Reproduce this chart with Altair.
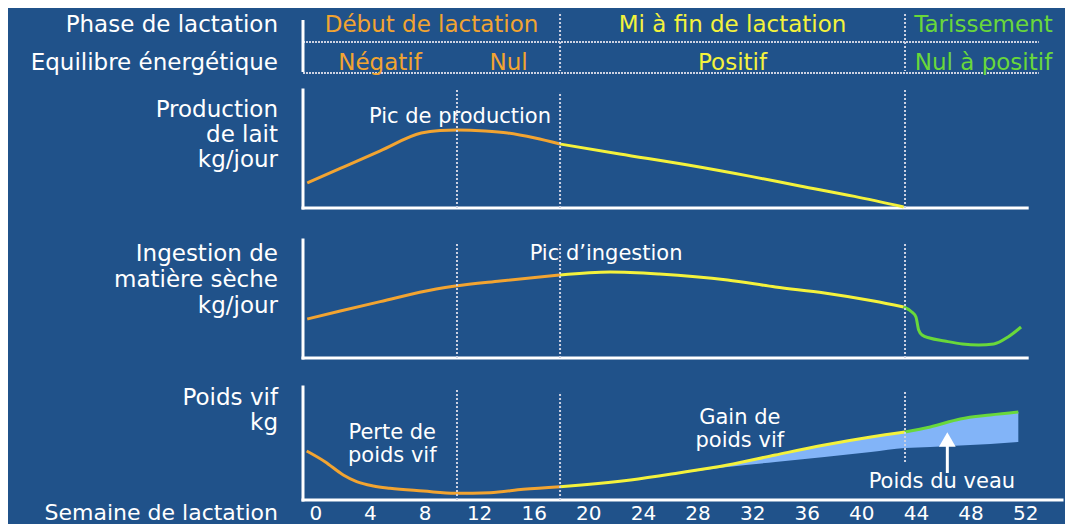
import altair as alt
import pandas as pd

# ---------------- data ----------------
WEEK_TICKS = [0, 4, 8, 12, 16, 20, 24, 28, 32, 36, 40, 44, 48, 52]
X_MIN, X_MAX = -0.9, 54.7
B_NUL, B_MID, B_DRY = 10.38, 17.93, 43.2

PHASE_LABELS = ["Début de lactation", "Mi à fin de lactation", "Tarissement"]
PHASE_START = [X_MIN, B_MID, B_DRY]
PHASE_END = [B_MID, B_DRY, X_MAX]
PHASE_SEG = ["orange", "yellow", "green"]

ENERGY_LABELS = ["Négatif", "Nul", "Positif", "Nul à positif"]
ENERGY_START = [X_MIN, B_NUL, B_MID, B_DRY]
ENERGY_END = [B_NUL, B_MID, B_DRY, X_MAX]
ENERGY_SEG = ["orange", "orange", "yellow", "green"]

# Production de lait (kg/jour)
MILK_EARLY_W = [-0.59, 1.83, 4.76, 7.76, 9.15, 10.4, 12.45, 14.1, 16.1, 17.93]
MILK_EARLY_V = [12.5, 19.8, 28.6, 37.5, 38.75, 39.0, 38.5, 37.5, 35.0, 32.0]
MILK_MID_W = [17.93, 22.3, 27.3, 31.9, 35.5, 39.5, 43.1]
MILK_MID_V = [32.0, 27.0, 21.5, 15.8, 11.0, 5.8, 0.5]

# Ingestion de matiere seche (kg/jour)
DMI_EARLY_W = [-0.59, 1.83, 4.76, 8.86, 10.26, 13.55, 17.93]
DMI_EARLY_V = [9.75, 11.75, 14.1, 17.25, 18.0, 19.25, 20.75]
DMI_MID_W = [17.93, 21.6, 25.2, 30.2, 33.7, 37.3, 40.9, 43.1]
DMI_MID_V = [20.75, 21.5, 21.0, 19.5, 17.75, 16.25, 14.25, 12.75]
DMI_DRY_W = [43.1, 43.7, 44.0, 44.2, 44.45, 45.0, 46.1, 47.4, 48.6, 49.7, 50.75, 51.7]
DMI_DRY_V = [12.75, 11.5, 10.25, 7.0, 5.75, 5.0, 4.25, 3.5, 3.25, 3.5, 5.25, 7.75]

# Poids vif (kg)
BW_EARLY_W = [-0.63, 0.71, 2.05, 3.03, 4.25, 5.47, 7.91, 10.26, 12.8, 15.24, 17.93]
BW_EARLY_V = [572.5, 545.75, 512.5, 495.75, 485, 479.25, 472.5, 466.75, 468.25, 476.75, 483.25]
BW_MID_W = [17.93, 19.5, 23.1, 26.6, 30.2, 33.7, 37.3, 40.7, 43.2]
BW_MID_V = [483.25, 487.5, 500, 517.5, 537.5, 562.5, 587.5, 607.5, 620]
BW_DRY_W = [43.2, 45.05, 47.25, 49.45, 51.5]
BW_DRY_V = [620, 632.5, 652.5, 662.5, 670]

# Poids du veau (zone bleue)
CALF_W = [25.5, 26.6, 30.2, 33.7, 37.3, 40.7, 43.2, 45.05, 47.25, 49.45, 51.5]
CALF_TOP = [512, 517.5, 537.5, 562.5, 587.5, 607.5, 620, 632.5, 652.5, 662.5, 670]
CALF_LOW = [512, 516, 532.5, 545, 557.5, 570, 580, 582.5, 586, 590, 595]
ARROW_W = 46.3
ARROW_BASE, ARROW_END, ARROW_HEAD = 517.5, 598.0, 601.5

# ---------------- style ----------------
BG = "#20528A"
WHITE = "#FFFFFF"
ORANGE = "#F2A431"
YELLOW = "#F4F23C"
GREEN = "#69D83A"
DOT = "#CDD2E2"
CALF = "#82B4F8"
FONT = "DejaVu Sans"
W = 759

XS = alt.Scale(domain=[X_MIN, X_MAX], nice=False, zero=False)
COLOR = alt.Color("seg:N", scale=alt.Scale(domain=["orange", "yellow", "green"],
                                           range=[ORANGE, YELLOW, GREEN]), legend=None)


def curve_df(parts):
    rows = []
    for seg, ws, vs in parts:
        for w, v in zip(ws, vs):
            rows.append({"seg": seg, "week": w, "v": v})
    return pd.DataFrame(rows)


# ---------------- header ----------------
phase_df = pd.DataFrame({"label": PHASE_LABELS, "start": PHASE_START, "end": PHASE_END, "seg": PHASE_SEG})
energy_df = pd.DataFrame({"label": ENERGY_LABELS, "start": ENERGY_START, "end": ENERGY_END, "seg": ENERGY_SEG})
one = pd.DataFrame({"a": [0]})


def mid_text(df, yv):
    return alt.Chart(df).transform_calculate(mid="(datum.start + datum.end) / 2").mark_text(
        font=FONT, fontSize=23, align="center", baseline="middle").encode(
        x=alt.X("mid:Q", scale=XS, axis=None), y=alt.value(yv), text="label:N", color=COLOR)


def left_label(text, yv, lh=25, size=23):
    return alt.Chart(one).mark_text(font=FONT, fontSize=size, align="right", baseline="middle",
                                    color=WHITE, lineBreak="\n", lineHeight=lh).encode(
        x=alt.value(-25), y=alt.value(yv), text=alt.value(text))


anchor = alt.Chart(one).mark_rule(color=BG, strokeWidth=1).encode(
    x=alt.value(-294.5), y=alt.value(30), y2=alt.value(31))

hline_df = pd.DataFrame({"start": [X_MIN], "end": [53.0]})


def hline(yv):
    return alt.Chart(hline_df).mark_rule(color=DOT, strokeWidth=2, strokeDash=[2, 1]).encode(
        x=alt.X("start:Q", scale=XS, axis=None), x2="end:Q", y=alt.value(yv))


hdash = alt.Chart(pd.DataFrame({"week": [B_MID, B_DRY]})).mark_rule(
    color=DOT, strokeWidth=2, strokeDash=[2, 2]).encode(
    x=alt.X("week:Q", scale=XS, axis=None), y=alt.value(6), y2=alt.value(63))

hsolid = alt.Chart(pd.DataFrame({"week": [X_MIN]})).mark_rule(color=WHITE, strokeWidth=3).encode(
    x=alt.X("week:Q", scale=XS, axis=None), y=alt.value(12), y2=alt.value(64))

header = alt.layer(
    anchor, hline(34), hline(65), hdash, hsolid,
    left_label("Phase de lactation", 17), left_label("Equilibre énergétique", 55),
    mid_text(phase_df, 17), mid_text(energy_df, 55),
).properties(width=W, height=72)


# ---------------- panels ----------------
def panel(curves, ydom, height, y_axis_top, x_axis_end, dash_w, dash_lo, dash_hi,
          notes, left_text, left_y, left_lh, axis=None, extra_below=(), extra_above=()):
    ys = alt.Scale(domain=ydom, nice=False, zero=False)

    def X(f):
        return alt.X(f, type="quantitative", scale=XS, axis=axis)

    def Y(f):
        return alt.Y(f, type="quantitative", scale=ys, axis=None)

    yaxis = alt.Chart(pd.DataFrame({"week": [X_MIN], "lo": [ydom[0]], "hi": [y_axis_top]})).mark_rule(
        color=WHITE, strokeWidth=3, strokeCap="square").encode(x=X("week"), y=Y("lo"), y2="hi:Q")
    xaxis = alt.Chart(pd.DataFrame({"week": [X_MIN], "end": [x_axis_end], "v": [ydom[0]]})).mark_rule(
        color=WHITE, strokeWidth=3, strokeCap="square").encode(x=X("week"), x2="end:Q", y=Y("v"))
    dashes = alt.Chart(pd.DataFrame({"week": dash_w, "lo": dash_lo, "hi": dash_hi})).mark_rule(
        color=DOT, strokeWidth=2, strokeDash=[2, 2]).encode(x=X("week"), y=Y("lo"), y2="hi:Q")
    lines = alt.Chart(curves).mark_line(strokeWidth=3, interpolate="monotone").encode(
        x=X("week"), y=Y("v"), color=COLOR, detail="seg:N", order="week:Q")
    texts = alt.Chart(notes).mark_text(font=FONT, fontSize=21, color=WHITE, align="center",
                                       baseline="middle", lineBreak="\n", lineHeight=23).encode(
        x=X("week"), y=Y("v"), text="label:N")
    layers = [yaxis, xaxis]
    layers += [f(X, Y) for f in extra_below]
    layers += [lines, dashes]
    layers += [f(X, Y) for f in extra_above]
    layers += [texts, left_label(left_text, left_y, left_lh)]
    return layers, height


milk = curve_df([("orange", MILK_EARLY_W, MILK_EARLY_V), ("yellow", MILK_MID_W, MILK_MID_V)])
l1, h1 = panel(milk, [0, 64], 128, 59, 52.15,
               [B_NUL, B_MID, B_DRY], [0, 0, 0], [59, 58, 59],
               pd.DataFrame({"label": ["Pic de production"], "week": [10.6], "v": [45.5]}),
               "Production\nde lait\nkg/jour", 30, 25)
p1 = alt.layer(*l1).properties(width=W, height=h1)

dmi = curve_df([("orange", DMI_EARLY_W, DMI_EARLY_V), ("yellow", DMI_MID_W, DMI_MID_V),
                ("green", DMI_DRY_W, DMI_DRY_V)])
l2, h2 = panel(dmi, [0, 37.5], 150, 29.5, 52.15,
               [B_NUL, B_MID, B_DRY], [0, 0, 0], [29, 28.5, 29],
               pd.DataFrame({"label": ["Pic d\u2019ingestion"], "week": [21.3], "v": [26]}),
               "Ingestion de\nmatière sèche\nkg/jour", 46, 26)
p2 = alt.layer(*l2).properties(width=W, height=h2)

bw = curve_df([("orange", BW_EARLY_W, BW_EARLY_V), ("yellow", BW_MID_W, BW_MID_V),
               ("green", BW_DRY_W, BW_DRY_V)])
calf_df = pd.DataFrame({"week": CALF_W, "top": CALF_TOP, "low": CALF_LOW})


def calf_area(X, Y):
    return alt.Chart(calf_df).mark_area(color=CALF, opacity=1, interpolate="monotone").encode(
        x=X("week"), y=Y("top"), y2="low:Q")


def arrow(X, Y):
    stem = alt.Chart(pd.DataFrame({"week": [ARROW_W], "lo": [ARROW_BASE], "hi": [ARROW_END]})).mark_rule(
        color=WHITE, strokeWidth=3).encode(x=X("week"), y=Y("lo"), y2="hi:Q")
    head = alt.Chart(pd.DataFrame({"week": [ARROW_W], "v": [ARROW_HEAD]})).mark_point(
        shape="triangle-up", filled=True, color=WHITE, opacity=1, size=280).encode(x=X("week"), y=Y("v"))
    return alt.layer(stem, head)


AX3 = alt.Axis(values=WEEK_TICKS, title=None, domain=False, ticks=False, tickSize=0, grid=False,
               labelColor=WHITE, labelFont=FONT, labelFontSize=20, labelPadding=13,
               labelBaseline="middle", labelFlush=False, labelOverlap=False, format="d")

l3, h3 = panel(bw, [450, 805], 142, 732.5, 54.7,
               [B_NUL, B_MID, B_DRY], [450, 450, 545], [725, 720, 720],
               pd.DataFrame({"label": ["Perte  de\npoids vif", "Gain de\npoids vif", "Poids du veau"],
                             "week": [5.64, 31.1, 45.9], "v": [617.5, 655, 495]}),
               "Poids vif\nkg", 40, 25, axis=AX3,
               extra_below=(calf_area,), extra_above=(arrow,))
l3.append(left_label("Semaine de lactation", 155, 25, 22))
p3 = alt.layer(*l3).properties(width=W, height=h3)

chart = alt.vconcat(header, p1, p2, p3, spacing=0, bounds="flush").properties(
    padding=0, background=BG).configure_view(stroke=None)

chart.save("out.html", embed_options={"renderer": "svg", "actions": False})
